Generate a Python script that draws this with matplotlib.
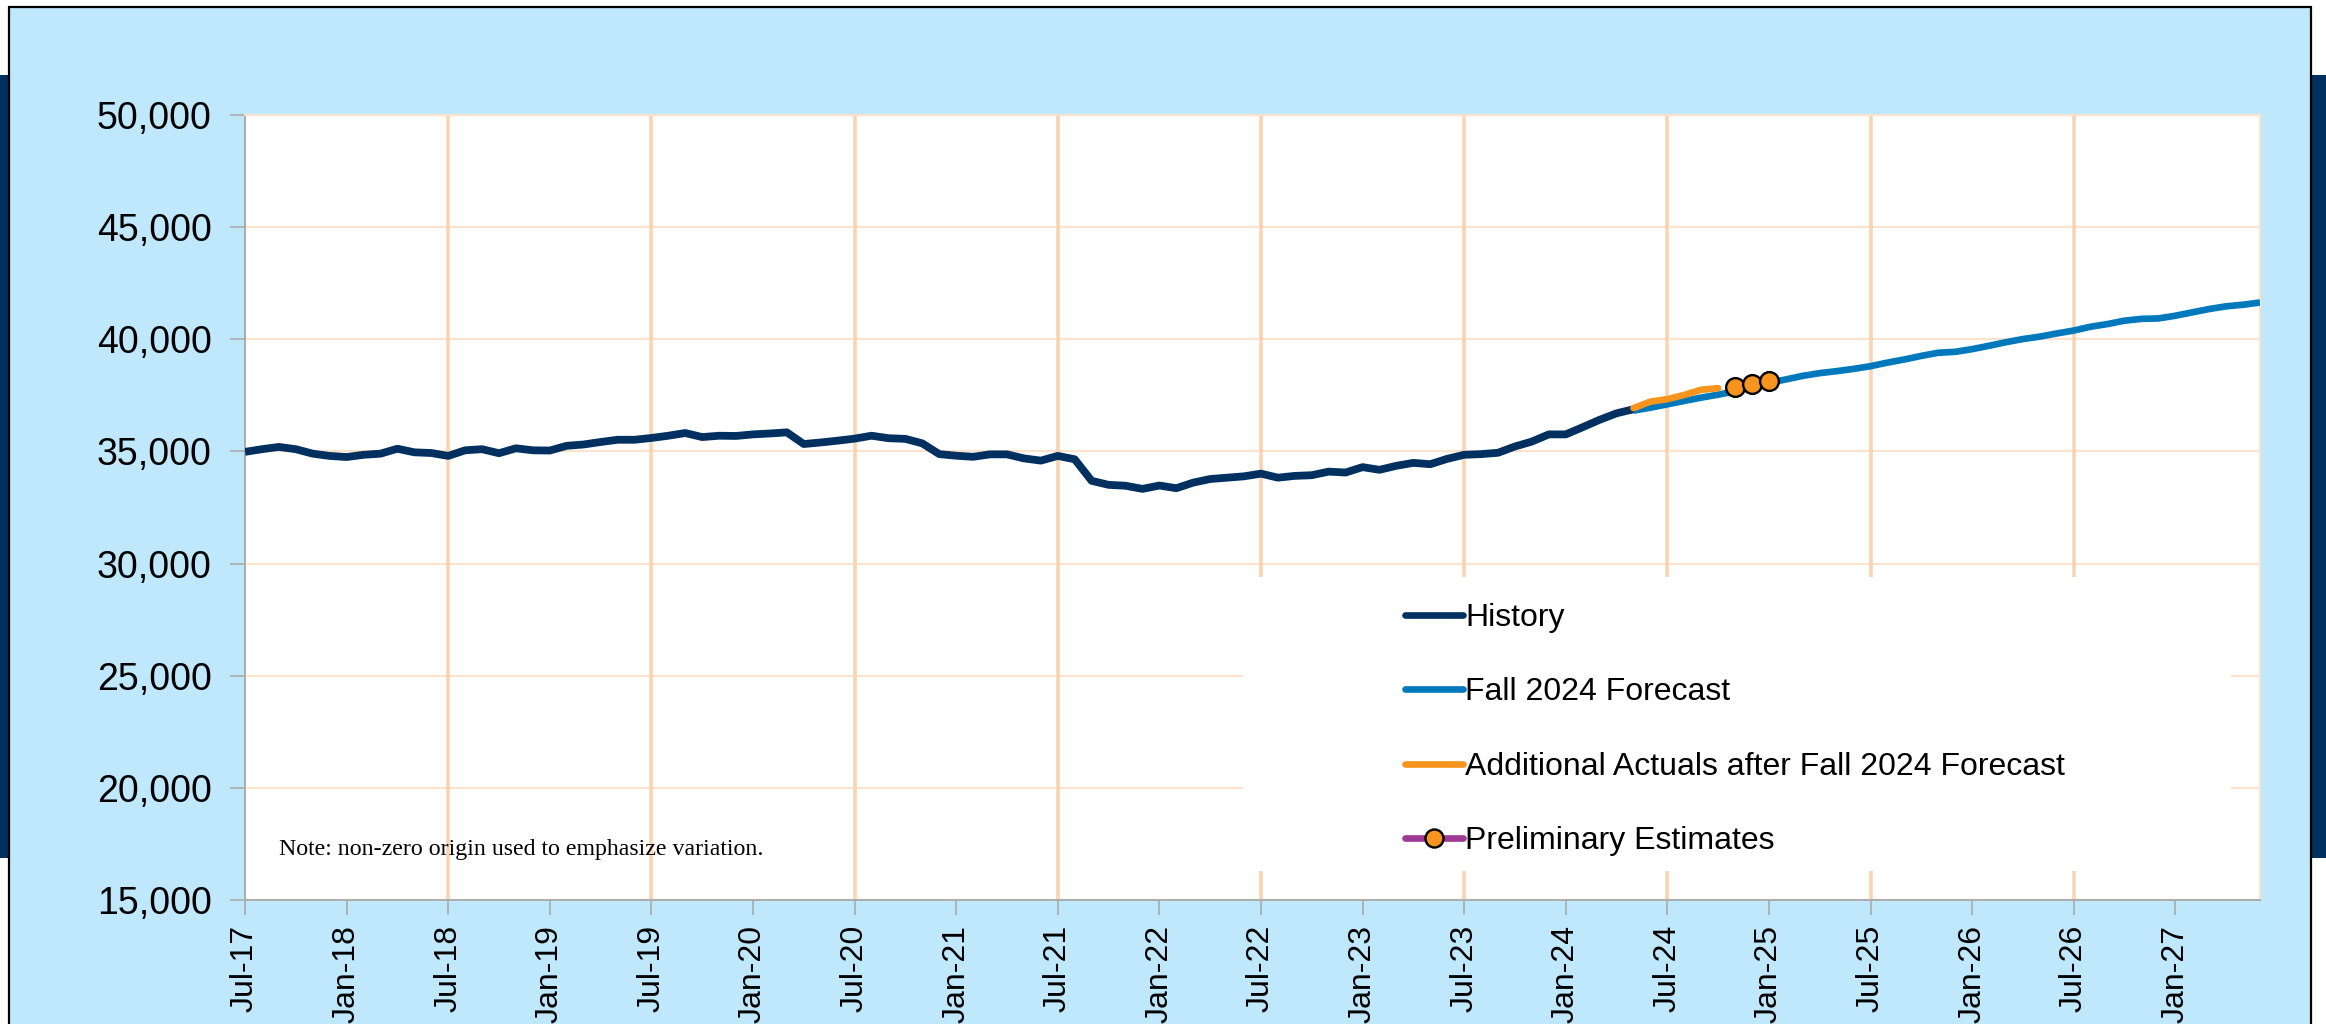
import matplotlib
matplotlib.use("Agg")
import matplotlib.pyplot as plt
from matplotlib.patches import Rectangle
from matplotlib.lines import Line2D
from matplotlib.ticker import FuncFormatter, FixedLocator, MultipleLocator

plt.rcParams['font.family'] = ['Liberation Sans', 'DejaVu Sans']

# ---------------- data (month index 0 = Jul-17) ----------------
history_start = 0
history = [34980, 35100, 35200, 35100, 34900, 34800, 34750, 34850, 34900, 35120,
           34960, 34930, 34800, 35050, 35100, 34920, 35140, 35050, 35040, 35250,
           35310, 35420, 35520, 35520, 35600, 35700, 35820, 35640, 35700, 35690,
           35760, 35800, 35850, 35330, 35400, 35480, 35570, 35700, 35590, 35560,
           35360, 34880, 34810, 34760, 34870, 34870, 34690, 34590, 34800, 34650,
           33690, 33510, 33470, 33330, 33480, 33360, 33610, 33770, 33830, 33890,
           34010, 33830, 33910, 33940, 34100, 34060, 34300, 34180, 34360, 34490,
           34430, 34670, 34850, 34880, 34940, 35220, 35440, 35760, 35760, 36080,
           36410, 36700, 36880]

forecast_start = 82
forecast = [36820, 36950, 37100, 37250, 37400, 37530, 37680, 37860, 38060, 38210,
            38370, 38490, 38580, 38680, 38800, 38960, 39100, 39260, 39400, 39440,
            39560, 39710, 39870, 40010, 40120, 40260, 40390, 40560, 40680, 40830,
            40910, 40930, 41050, 41200, 41350, 41470, 41540, 41640]

actuals_start = 82
actuals = [36930, 37220, 37330, 37520, 37750, 37820]

prelim_start = 88
prelim = [37860, 38000, 38140]

tick_labels = ['Jul-17', 'Jan-18', 'Jul-18', 'Jan-19', 'Jul-19', 'Jan-20', 'Jul-20',
               'Jan-21', 'Jul-21', 'Jan-22', 'Jul-22', 'Jan-23', 'Jul-23', 'Jan-24',
               'Jul-24', 'Jan-25', 'Jul-25', 'Jan-26', 'Jul-26', 'Jan-27']
n_months = 120

series_labels = ['History', 'Fall 2024 Forecast',
                 'Additional Actuals after Fall 2024 Forecast', 'Preliminary Estimates']

# ---------------- colours ----------------
NAVY = '#003060'
BLUE = '#0079BC'
ORANGE = '#F7941D'
PURPLE = '#9E3A96'
PANEL = '#C0E8FC'
HGRID = '#FCE3CE'
VGRID = '#FAD4B2'
AXGRAY = '#ABABAB'

W, H = 2326, 1024
fig = plt.figure(figsize=(W / 100, H / 100), dpi=100)
fig.patch.set_facecolor('white')

# navy side bars
fig.patches.append(Rectangle((0, (H - 858) / H), 12 / W, (858 - 75) / H,
                             transform=fig.transFigure, facecolor=NAVY, edgecolor='none', zorder=0))
fig.patches.append(Rectangle((2308 / W, (H - 858) / H), 18 / W, (858 - 75) / H,
                             transform=fig.transFigure, facecolor=NAVY, edgecolor='none', zorder=0))
# light blue panel
fig.patches.append(Rectangle((9 / W, -0.02), (2311 - 9) / W, (H - 7) / H + 0.02,
                             transform=fig.transFigure, facecolor=PANEL, edgecolor='black',
                             linewidth=1.6, zorder=1))

ax = fig.add_axes([245 / W, (H - 900) / H, 2015 / W, 785 / H])
ax.set_facecolor('white')
ax.set_zorder(2)

x_hist = list(range(history_start, history_start + len(history)))
x_fc = list(range(forecast_start, forecast_start + len(forecast)))
x_act = list(range(actuals_start, actuals_start + len(actuals)))
x_pre = list(range(prelim_start, prelim_start + len(prelim)))

ax.plot(x_fc, forecast, color=BLUE, lw=4.8, solid_joinstyle='round', solid_capstyle='butt', zorder=3)
ax.plot(x_hist, history, color=NAVY, lw=5.6, solid_joinstyle='round', solid_capstyle='butt', zorder=4)
ax.plot(x_act, actuals, color=ORANGE, lw=4.8, solid_joinstyle='round', solid_capstyle='round', zorder=5)
ax.plot(x_pre, prelim, color=PURPLE, lw=4.6, marker='o', markersize=13.5,
        markerfacecolor=ORANGE, markeredgecolor='black', markeredgewidth=1.7, zorder=6)

ax.set_xlim(0, n_months - 1)
ax.set_ylim(15000, 50000)

ax.xaxis.set_major_locator(FixedLocator(list(range(0, n_months, 6))))
ax.set_xticklabels(tick_labels, rotation=90, fontsize=23)
ax.yaxis.set_major_locator(MultipleLocator(5000))
ax.yaxis.set_major_formatter(FuncFormatter(lambda v, p: f'{int(v):,}'))
ax.tick_params(axis='y', labelsize=27, length=11, width=1.2, color=AXGRAY, pad=13)
ax.tick_params(axis='x', length=11, width=1.2, color=AXGRAY, pad=7)

# grid
ax.set_axisbelow(True)
ax.grid(axis='y', color=HGRID, lw=1.5)
for xv in range(0, n_months, 12):
    if xv > 0:
        ax.axvline(xv, color=VGRID, lw=2.6, zorder=0.6)

for s in ['top', 'right']:
    ax.spines[s].set_color(HGRID)
    ax.spines[s].set_linewidth(1.5)
for s in ['left', 'bottom']:
    ax.spines[s].set_color(AXGRAY)
    ax.spines[s].set_linewidth(1.4)

# legend background
ax.add_patch(Rectangle(((1243 - 245) / 2015, (900 - 871) / 785), (2231 - 1243) / 2015,
                       (871 - 577) / 785, transform=ax.transAxes, facecolor='white',
                       edgecolor='none', zorder=1))

handles = [Line2D([], [], color=NAVY, lw=4.8, solid_capstyle='round'),
           Line2D([], [], color=BLUE, lw=4.8, solid_capstyle='round'),
           Line2D([], [], color=ORANGE, lw=4.8, solid_capstyle='round'),
           Line2D([], [], color=PURPLE, lw=4.8, solid_capstyle='round', marker='o', markersize=13,
                  markerfacecolor=ORANGE, markeredgecolor='black', markeredgewidth=1.7)]
leg = ax.legend(handles, series_labels, loc='upper left',
                bbox_to_anchor=((1405 - 245) / 2015, (900 - 603) / 785),
                frameon=False, fontsize=23, handlelength=1.8, handletextpad=0.08,
                labelspacing=1.39, borderpad=0, borderaxespad=0)
leg.set_zorder(7)

ax.text((279 - 245) / 2015, (900 - 849) / 785, 'Note: non-zero origin used to emphasize variation.',
        transform=ax.transAxes, fontsize=17.2, family=['Liberation Serif', 'DejaVu Serif'],
        va='center', ha='left', zorder=7)

fig.savefig('out.png', dpi=100)
